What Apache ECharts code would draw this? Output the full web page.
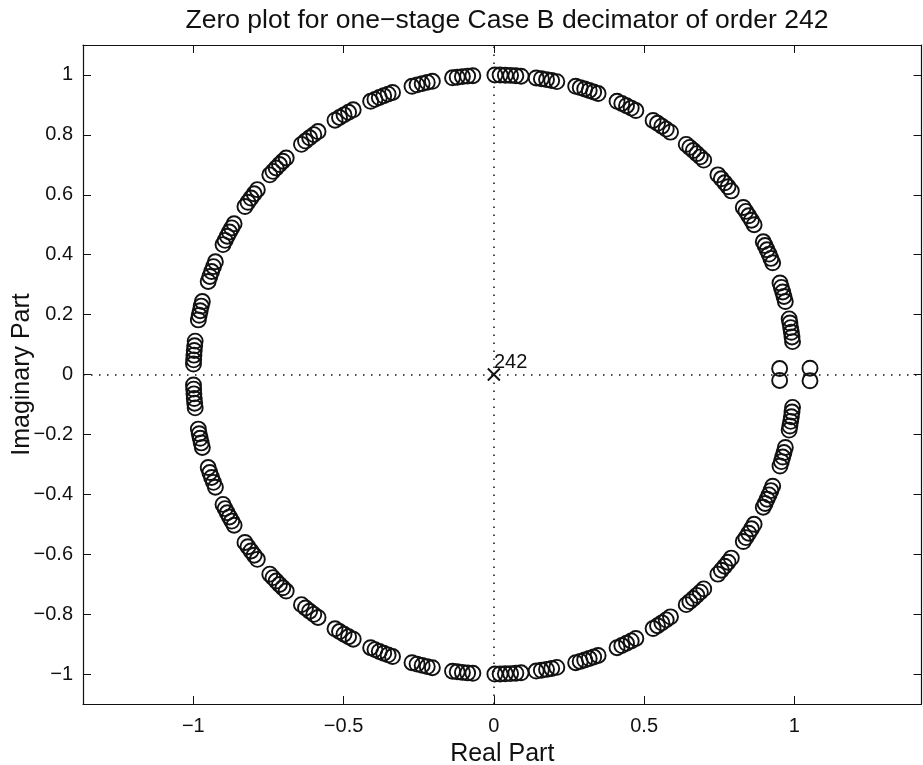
<!DOCTYPE html>
<html lang="en">
<head>
  <meta http-equiv="Content-Type" content="text/html; charset=UTF-8">
  <title>Zero plot</title>
  <style>
    html, body { margin: 0; padding: 0; background: #fff; }
  </style>
</head>
<body>
  <div id="chart" style="width: 923px; height: 765px;"></div>
  <script src="https://cdn.jsdelivr.net/npm/echarts@6/dist/echarts.min.js"></script>
  <script>
    // zero angles on the unit circle, in degrees
    const anglesUpper = [
      6.3, 7.2, 8.1, 9.0, 9.9, 10.7,
      14.1, 15.1, 16.0, 16.9, 17.8,
      21.9, 22.8, 23.7, 24.6, 25.5, 26.3,
      30.0, 31.0, 32.0, 33.0, 33.9,
      37.8, 38.8, 39.8, 40.8, 41.8,
      45.7, 46.6, 47.5, 48.4, 49.3, 50.2,
      54.0, 55.0, 56.0, 57.0, 58.0,
      61.8, 62.8, 63.8, 64.8, 65.8,
      69.7, 70.6, 71.5, 72.4, 73.3, 74.2,
      77.9, 78.9, 79.9, 80.9, 81.9,
      84.8, 85.8, 86.8, 87.8, 88.8, 89.8,
      94.0, 95.0, 96.0, 97.0, 97.9,
      101.8, 102.8, 103.8, 104.8, 105.8,
      109.7, 110.6, 111.5, 112.4, 113.3, 114.2,
      117.9, 118.9, 119.9, 120.9, 121.9,
      125.8, 126.8, 127.8, 128.8, 129.8,
      133.7, 134.6, 135.5, 136.4, 137.3, 138.2,
      141.9, 142.9, 143.9, 144.9, 145.9,
      149.8, 150.7, 151.6, 152.5, 153.4, 154.3,
      157.9, 158.9, 159.9, 160.9, 161.9,
      165.9, 166.8, 167.7, 168.6, 169.5,
      173.6, 174.5, 175.4, 176.3, 177.2, 178.0
    ];
    const anglesLower = [
      -6.3, -7.2, -8.1, -9.0, -9.9, -10.7,
      -14.1, -15.1, -16.0, -16.9, -17.8,
      -21.9, -22.8, -23.7, -24.6, -25.5, -26.3,
      -30.0, -31.0, -32.0, -33.0, -33.9,
      -37.8, -38.8, -39.8, -40.8, -41.8,
      -45.7, -46.6, -47.5, -48.4, -49.3, -50.2,
      -54.0, -55.0, -56.0, -57.0, -58.0,
      -61.8, -62.8, -63.8, -64.8, -65.8,
      -69.7, -70.6, -71.5, -72.4, -73.3, -74.2,
      -77.9, -78.9, -79.9, -80.9, -81.9,
      -84.8, -85.8, -86.8, -87.8, -88.8, -89.8,
      -94.0, -95.0, -96.0, -97.0, -97.9,
      -101.8, -102.8, -103.8, -104.8, -105.8,
      -109.7, -110.6, -111.5, -112.4, -113.3, -114.2,
      -117.9, -118.9, -119.9, -120.9, -121.9,
      -125.8, -126.8, -127.8, -128.8, -129.8,
      -133.7, -134.6, -135.5, -136.4, -137.3, -138.2,
      -141.9, -142.9, -143.9, -144.9, -145.9,
      -149.8, -150.7, -151.6, -152.5, -153.4, -154.3,
      -157.9, -158.9, -159.9, -160.9, -161.9,
      -165.9, -166.8, -167.7, -168.6, -169.5,
      -173.6, -174.5, -175.4, -176.3, -177.2, -178.0
    ];
    // zeros off the unit circle (re, im)
    const offCircleZeros = [[0.951, 0.02], [0.951, -0.02], [1.052, 0.021], [1.052, -0.021]];
    const poles = [[0, 0]];
    const poleCount = '242';
    const xTicks = [-1, -0.5, 0, 0.5, 1];
    const yTicks = [-1, -0.8, -0.6, -0.4, -0.2, 0, 0.2, 0.4, 0.6, 0.8, 1];

    const toXY = a => [Math.cos(a * Math.PI / 180), Math.sin(a * Math.PI / 180)];
    const zeros = anglesUpper.map(toXY).concat(anglesLower.map(toXY), offCircleZeros);

    const font = 'Liberation Sans, Arial, Helvetica, sans-serif';
    const fmt = v => String(v).replace('-', '\u2212');
    const black = '#111';

    const tickOnly = {
      axisLine: { show: true, onZero: false, lineStyle: { color: black, width: 1.2 } },
      axisTick: { show: true, inside: true, length: 8, lineStyle: { color: black, width: 1 } },
      splitLine: { show: false }
    };

    const myChart = echarts.init(document.getElementById('chart'));
    const option = {
      backgroundColor: '#fff',
      animation: false,
      title: {
        text: 'Zero plot for one\u2212stage Case B decimator of order 242',
        left: 502,
        textAlign: 'center',
        top: 2,
        textStyle: { fontFamily: font, fontSize: 26.5, fontWeight: 'normal', color: black }
      },
      grid: { left: 83, right: 1.5, top: 45, bottom: 61, outerBoundsMode: 'none', containLabel: false },
      xAxis: [{
        type: 'value', position: 'bottom', min: -1.367, max: 1.423,
        name: 'Real Part', nameLocation: 'middle', nameGap: 38, nameMoveOverlap: false,
        nameTextStyle: { fontFamily: font, fontSize: 25, color: black },
        ...tickOnly,
        axisTick: { ...tickOnly.axisTick, customValues: xTicks },
        axisLabel: { customValues: xTicks, formatter: fmt, fontFamily: font, fontSize: 20, color: black, margin: 12 }
      }, {
        type: 'value', position: 'top', min: -1.367, max: 1.423,
        ...tickOnly,
        axisTick: { ...tickOnly.axisTick, customValues: xTicks },
        axisLabel: { show: false }
      }],
      yAxis: [{
        type: 'value', position: 'left', min: -1.1, max: 1.1,
        name: 'Imaginary Part', nameLocation: 'middle', nameGap: 48, nameMoveOverlap: false,
        nameTextStyle: { fontFamily: font, fontSize: 25, color: black },
        ...tickOnly,
        axisTick: { ...tickOnly.axisTick, customValues: yTicks },
        axisLabel: { customValues: yTicks, formatter: fmt, fontFamily: font, fontSize: 20, color: black, margin: 10 }
      }, {
        type: 'value', position: 'right', min: -1.1, max: 1.1,
        ...tickOnly,
        axisTick: { ...tickOnly.axisTick, customValues: yTicks },
        axisLabel: { show: false }
      }],
      series: [{
        name: 'axes',
        type: 'scatter',
        data: [],
        markLine: {
          silent: true,
          symbol: 'none',
          label: { show: false },
          lineStyle: { color: black, type: [1.5, 6.5], width: 1.5, opacity: 1 },
          data: [{ xAxis: 0 }, { yAxis: 0 }]
        }
      }, {
        name: 'zeros',
        type: 'scatter',
        symbol: 'circle',
        symbolSize: 15,
        itemStyle: { color: 'rgba(0,0,0,0)', borderColor: black, borderWidth: 1.9, opacity: 1 },
        data: zeros
      }, {
        name: 'poles',
        type: 'scatter',
        symbol: 'path://M0,0L10,10M10,0L0,10',
        symbolSize: 12,
        itemStyle: { color: 'rgba(0,0,0,0)', borderColor: black, borderWidth: 1.9, opacity: 1 },
        label: {
          show: true,
          formatter: poleCount,
          position: [7, 5],
          align: 'left',
          verticalAlign: 'bottom',
          fontFamily: font,
          fontSize: 20,
          color: black
        },
        data: poles
      }]
    };
    myChart.setOption(option);
  </script>
</body>
</html>
